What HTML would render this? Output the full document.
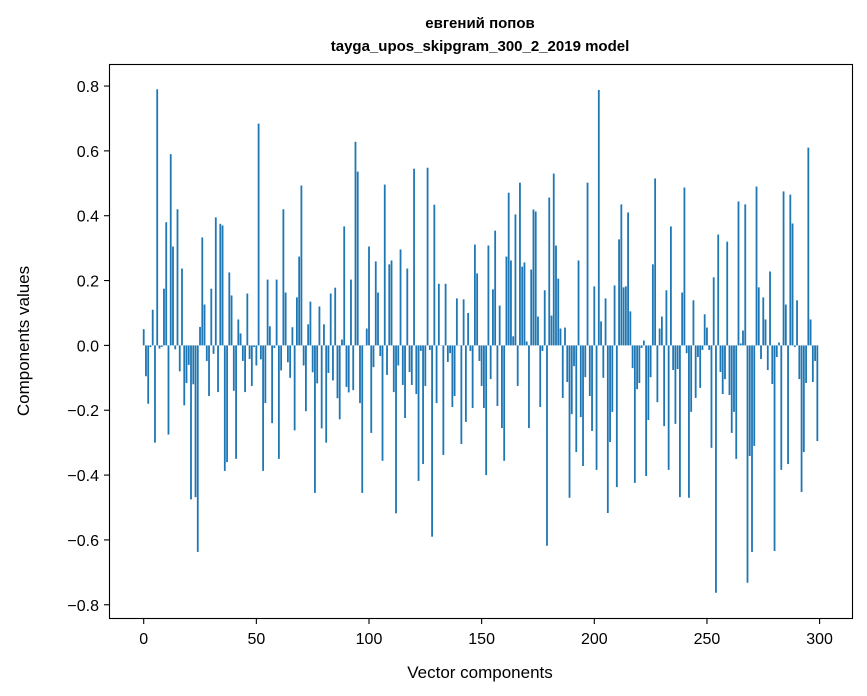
<!DOCTYPE html>
<html><head><meta charset="utf-8"><style>
html,body{margin:0;padding:0;background:#fff;}
svg{display:block;font-family:"Liberation Sans","DejaVu Sans",sans-serif;}
</style></head><body>
<svg id="s" width="867" height="696" viewBox="0 0 867 696" xmlns="http://www.w3.org/2000/svg">
<rect width="867" height="696" fill="#fff"/>
<text x="480" y="28" text-anchor="middle" font-size="15" font-weight="bold">евгений попов</text>
<text x="480" y="51" text-anchor="middle" font-size="15" font-weight="bold">tayga_upos_skipgram_300_2_2019 model</text>
<g id="bars" fill="#1f77b4"></g>
<rect x="109.5" y="64.5" width="743" height="554" fill="none" stroke="#000" stroke-width="1.1"/>
<g id="ax" font-size="16" fill="#000"></g>
<text x="480" y="678" text-anchor="middle" font-size="17">Vector components</text>
<text transform="translate(29,341) rotate(-90)" text-anchor="middle" font-size="17">Components values</text>
</svg>
<script>
var v=[0.05,-0.095,-0.18,-0.005,0.11,-0.30,0.79,-0.01,-0.005,0.175,0.38,-0.275,0.59,0.305,-0.012,0.42,-0.08,0.237,-0.185,-0.116,-0.06,-0.475,-0.12,-0.468,-0.637,0.057,0.333,0.126,-0.048,-0.156,
0.175,-0.026,0.395,-0.144,0.375,0.37,-0.387,-0.36,0.225,0.154,-0.14,-0.35,0.08,0.037,-0.048,-0.144,0.16,-0.042,-0.125,-0.005,-0.062,
0.684,-0.043,-0.387,-0.178,0.203,0.059,-0.24,-0.008,0.203,-0.35,-0.077,0.42,0.163,-0.052,-0.1,0.056,-0.262,0.148,0.274,0.493,-0.062,-0.203,0.065,0.135,-0.083,-0.455,-0.117,0.12,-0.256,0.065,-0.3,-0.085,0.16,-0.108,0.178,-0.163,-0.228,0.018,0.367,-0.128,-0.145,0.203,-0.138,0.628,0.536,-0.178,-0.455,0.0,0.052,0.305,-0.27,
-0.067,0.259,0.163,-0.033,-0.356,0.496,-0.091,0.25,0.262,-0.144,-0.518,-0.062,0.296,-0.122,-0.224,0.237,-0.082,-0.122,0.545,-0.15,-0.418,-0.017,-0.366,-0.125,0.548,-0.014,-0.59,0.434,-0.178,0.19,
0.0,-0.338,0.19,-0.051,-0.024,-0.19,-0.156,0.145,0.0,-0.304,0.142,-0.236,0.1,-0.017,-0.193,0.311,0.222,-0.048,-0.125,-0.193,
-0.4,0.308,-0.104,0.173,0.354,-0.187,0.123,-0.255,-0.356,0.274,0.471,0.262,0.028,0.404,-0.125,0.502,0.243,0.256,0.012,-0.255,0.234,0.419,0.413,0.089,-0.19,-0.017,0.17,-0.618,0.456,0.092,0.53,0.308,0.206,0.052,-0.162,0.055,-0.113,-0.47,-0.212,-0.064,-0.329,0.262,-0.221,-0.372,-0.098,0.502,-0.156,-0.264,0.182,-0.384,
0.788,0.074,-0.1,0.145,-0.517,-0.298,-0.205,0.185,-0.437,0.327,0.435,0.179,0.182,0.41,0.105,-0.07,-0.424,-0.135,-0.116,-0.008,0.015,-0.403,-0.23,-0.098,0.25,0.515,-0.175,0.052,0.089,-0.249,0.17,-0.384,0.367,-0.076,-0.242,-0.073,-0.468,0.163,0.487,-0.024,-0.47,-0.205,0.139,-0.162,-0.036,-0.131,-0.014,0.096,0.055,-0.014,
-0.316,0.21,-0.763,0.342,-0.082,-0.15,-0.104,0.32,-0.153,-0.27,-0.205,-0.35,0.444,0.006,0.046,0.435,-0.732,-0.341,-0.637,-0.31,0.49,0.179,-0.042,0.148,0.08,-0.076,0.228,-0.119,-0.634,-0.036,0.009,-0.384,0.475,0.126,-0.366,0.465,0.376,-0.005,0.139,-0.104,-0.452,-0.329,-0.116,0.61,0.08,-0.113,-0.048,-0.295];
var NS="http://www.w3.org/2000/svg";
function X(d){return 109+(d+15.4)*2.253;}
function Y(d){return 345.4-d*324.2;}
var g=document.getElementById('bars');
for(var i=0;i<v.length;i++){var r=document.createElementNS(NS,'rect');var y0=Y(0),y1=Y(v[i]);
r.setAttribute('x',X(i-0.4));r.setAttribute('width',0.8*2.253);r.setAttribute('y',Math.min(y0,y1));r.setAttribute('height',Math.max(Math.abs(y1-y0),0.3));g.appendChild(r);}
var ax=document.getElementById('ax');
function add(tag,at,txt){var e=document.createElementNS(NS,tag);for(var k in at)e.setAttribute(k,at[k]);if(txt!=null)e.textContent=txt;ax.appendChild(e);}
for(var t=0;t<=300;t+=50){var x=X(t);add('line',{x1:x,x2:x,y1:618.5,y2:624,stroke:'#000','stroke-width':1.1});add('text',{x:x,y:644,'text-anchor':'middle'},String(t));}
for(var k=-4;k<=4;k++){var d=k*0.2,y=Y(d);add('line',{x1:104,x2:109.5,y1:y,y2:y,stroke:'#000','stroke-width':1.1});
var s=Math.abs(d).toFixed(1);if(k<0)s='\u2212'+s;add('text',{x:99,y:y+6,'text-anchor':'end'},s);}
</script>
</body></html>
